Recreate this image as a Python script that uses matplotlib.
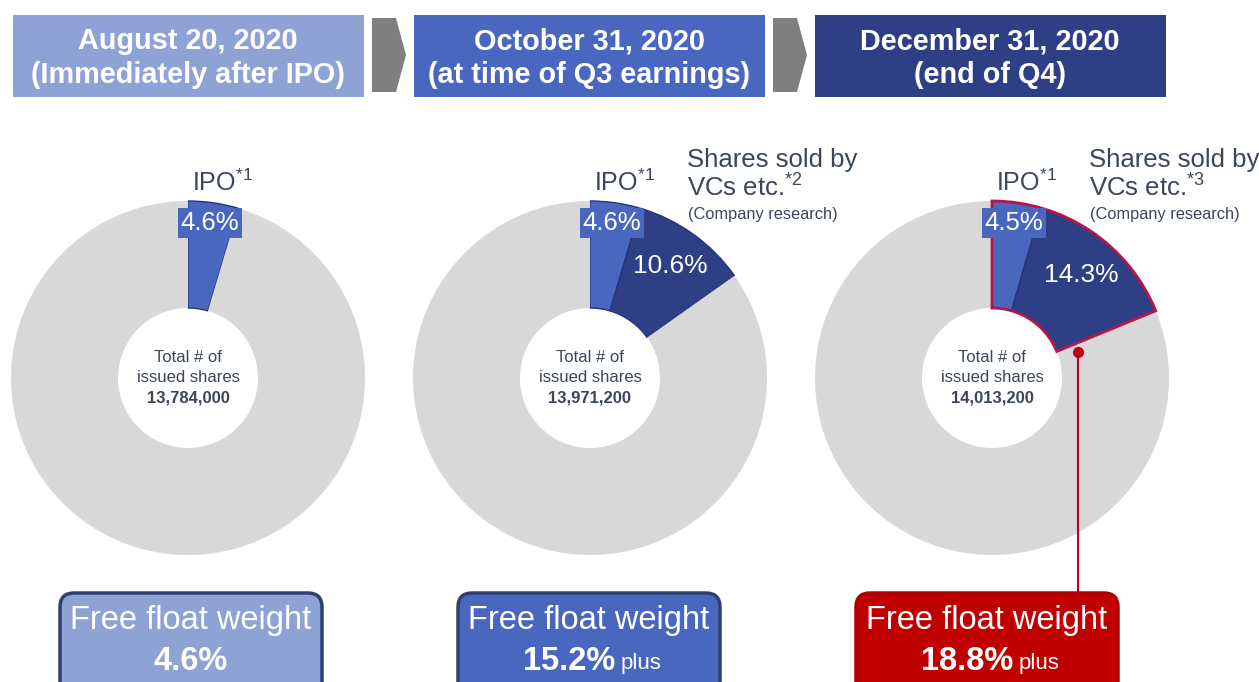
import matplotlib
matplotlib.use('Agg')
import matplotlib.pyplot as plt
from matplotlib.patches import FancyBboxPatch, Polygon, Rectangle

plt.rcParams['font.family'] = ['Liberation Sans', 'DejaVu Sans']
plt.rcParams['mathtext.fontset'] = 'custom'
plt.rcParams['mathtext.rm'] = 'Liberation Sans'

# data
dates = ['August 20, 2020', 'October 31, 2020', 'December 31, 2020']
date_notes = ['(Immediately after IPO)', '(at time of Q3 earnings)', '(end of Q4)']
ipo_pct = [4.6, 4.6, 4.5]
vc_pct = [0.0, 10.6, 14.3]
vc_notes = ['', '*2', '*3']
total_shares = [13784000, 13971200, 14013200]
free_float = [4.6, 15.2, 18.8]
free_float_plus = [False, True, True]

W, H = 1259, 682
head_colors = ['#8fa2d6', '#4a67c0', '#2e3f86']
ipo_color = '#4a67c0'
vc_color = '#2e3f86'
rest_color = '#d8d8d8'
txt_color = '#3b4658'
red = '#c00018'

fig = plt.figure(figsize=(W / 100, H / 100), dpi=100)
ax = fig.add_axes([0, 0, 1, 1])

def py(y):
    return H - y

centers = [188, 590, 992]
r_out, r_in = 177, 70

for i in range(3):
    cx, cy = centers[i], py(378)
    vals = [ipo_pct[i], vc_pct[i], 100 - ipo_pct[i] - vc_pct[i]]
    wedges, _ = ax.pie(vals, colors=[ipo_color, vc_color, rest_color],
                       startangle=90, counterclock=False, radius=r_out,
                       center=(cx, cy),
                       wedgeprops=dict(width=r_out - r_in, linewidth=0))
    for w in wedges[:2]:
        if w.theta2 - w.theta1 > 0:
            w.set_edgecolor('#26357a')
            w.set_linewidth(1)

    # header box
    x0 = 13 + 401 * i
    ax.add_patch(Rectangle((x0, py(97)), 351, 82, fc=head_colors[i], ec='none'))
    ax.text(x0 + 175, py(41), dates[i], color='white', fontsize=20.8,
            fontweight='bold', ha='center', va='center')
    ax.text(x0 + 175, py(75), date_notes[i], color='white', fontsize=20.8,
            fontweight='bold', ha='center', va='center')
    if i < 2:
        ax0 = x0 + 359
        ax.add_patch(Polygon([(ax0, py(18)), (ax0 + 24, py(18)), (ax0 + 34, py(55)),
                              (ax0 + 24, py(92)), (ax0, py(92))],
                             closed=True, fc='#7f7f7f', ec='none'))

    # centre text
    ax.text(cx, py(358), 'Total # of', color=txt_color, fontsize=12,
            ha='center', va='center')
    ax.text(cx, py(378), 'issued shares', color=txt_color, fontsize=12,
            ha='center', va='center')
    ax.text(cx, py(398), f'{total_shares[i]:,}', color=txt_color, fontsize=12,
            fontweight='bold', ha='center', va='center')

    # IPO labels
    ax.text(cx + 34, py(183), r'IPO$^{\mathrm{*1}}$', color=txt_color,
            fontsize=18, ha='center', va='center')
    ax.text(cx + 22, py(223), f'{ipo_pct[i]}%', color='white', fontsize=18.5,
            ha='center', va='center',
            bbox=dict(boxstyle='square,pad=0.12', fc=ipo_color, ec='none'))
    if vc_pct[i] > 0:
        ax.text(cx + 97, py(160), 'Shares sold by', color=txt_color,
                fontsize=18.5, ha='left', va='center')
        ax.text(cx + 97, py(187), 'VCs etc.$^{\\mathrm{' + vc_notes[i] + '}}$',
                color=txt_color, fontsize=18.5, ha='left', va='center')
        ax.text(cx + 98, py(215), '(Company research)', color=txt_color,
                fontsize=11.8, ha='left', va='center')
        lx = cx + 80 + (vc_pct[i] - 10.6) * 2.5
        ly = py(266 + (vc_pct[i] - 10.6) * 2.5)
        ax.text(lx, ly, f'{vc_pct[i]}%', color='white', fontsize=19,
                ha='center', va='center')

    # free float box
    bx = 60 + 398 * i
    bcol = head_colors[i] if i < 2 else '#c00000'
    becol = '#2f3f6e' if i < 2 else '#b00000'
    ax.add_patch(FancyBboxPatch((bx, py(700)), 262, 107,
                                boxstyle='round,pad=0,rounding_size=14',
                                fc=bcol, ec=becol, lw=2.5))
    ax.text(bx + 131, py(620), 'Free float weight', color='white', fontsize=23.5,
            ha='center', va='center')
    if free_float_plus[i]:
        ax.text(bx + 157, py(662), f'{free_float[i]}%', color='white', fontsize=23.5,
                fontweight='bold', ha='right', va='center')
        ax.text(bx + 163, py(664), 'plus', color='white', fontsize=16,
                ha='left', va='center')
    else:
        ax.text(bx + 131, py(662), f'{free_float[i]}%', color='white', fontsize=23.5,
                fontweight='bold', ha='center', va='center')

# red outline around the free float share at end of Q4
cx = centers[2]
ow, _ = ax.pie([ipo_pct[2] + vc_pct[2], 100 - ipo_pct[2] - vc_pct[2]],
               startangle=90, counterclock=False, radius=r_out,
               center=(cx, py(378)),
               wedgeprops=dict(width=r_out - r_in, fill=False, linewidth=2,
                               edgecolor='#b8144a'))
ow[1].set_visible(False)
ax.plot([1078, 1078], [py(352), py(596)], color=red, lw=1.5)
ax.plot([1078], [py(352)], 'o', color=red, ms=7)

ax.set_xlim(0, W)
ax.set_ylim(0, H)
ax.set_aspect('equal')
ax.axis('off')

fig.savefig('out.png', dpi=100, facecolor='white')
